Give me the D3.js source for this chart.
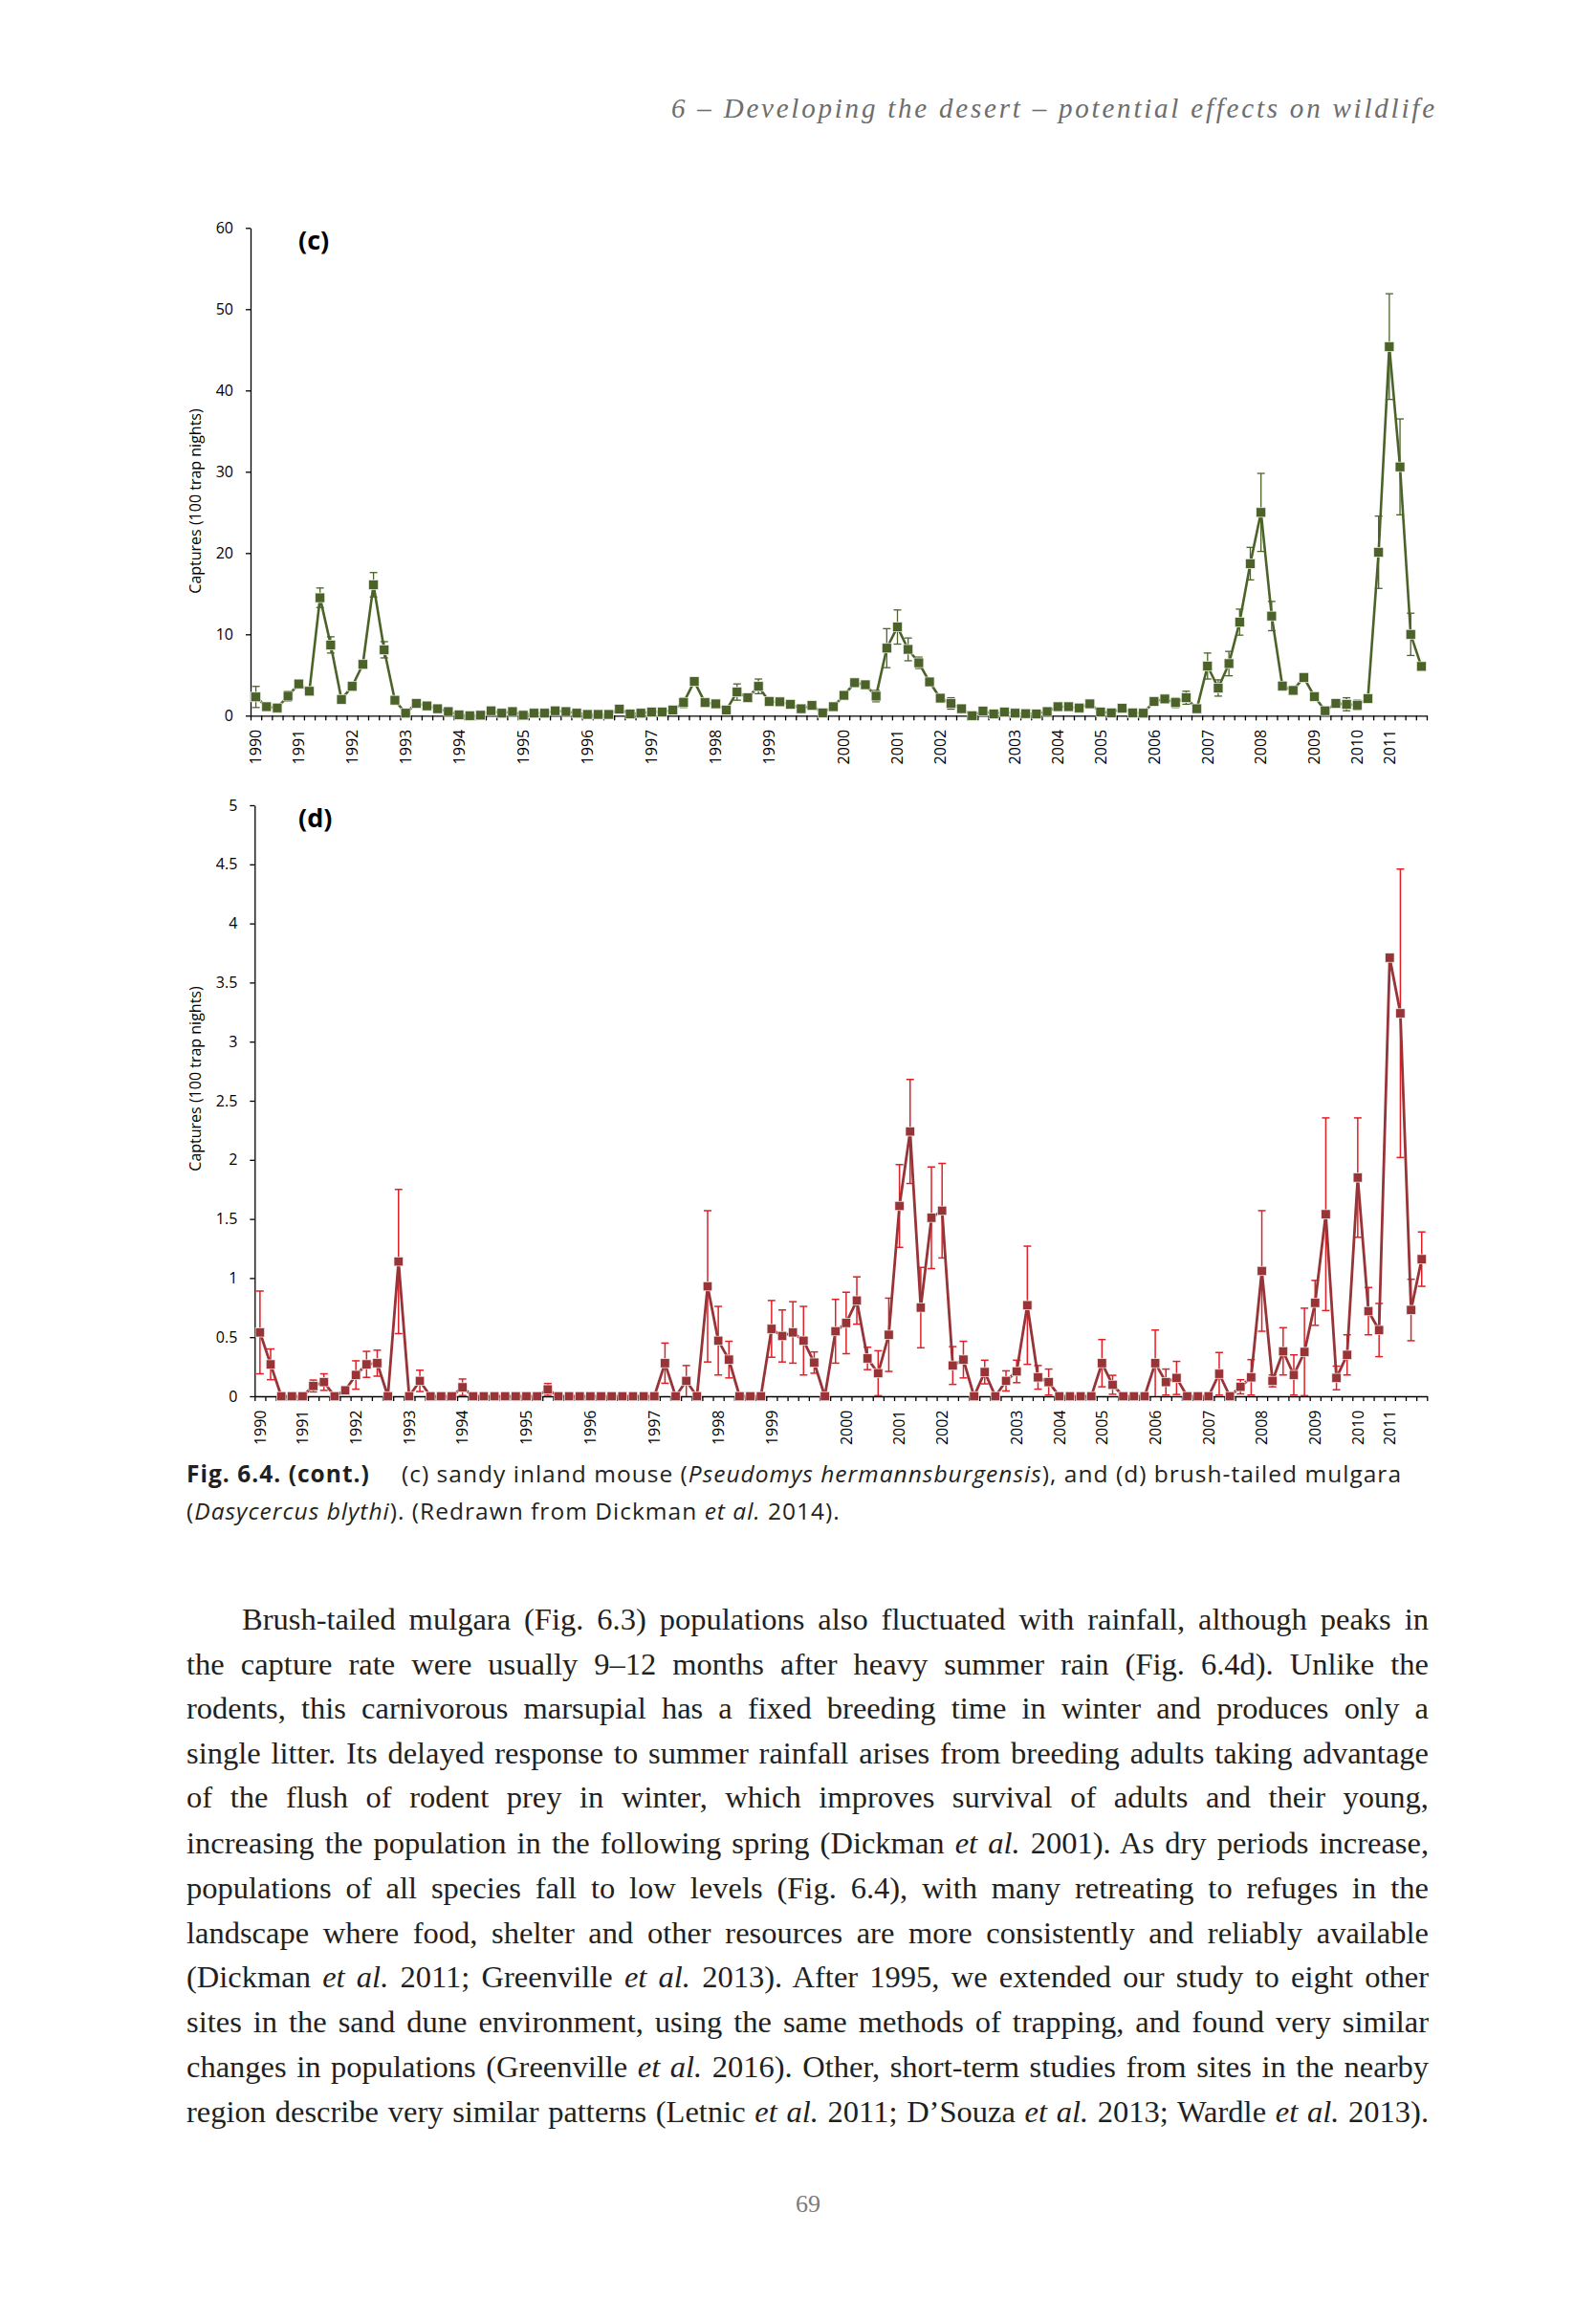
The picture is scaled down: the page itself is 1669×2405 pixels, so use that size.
<!DOCTYPE html>
<html><head><meta charset="utf-8">
<script src="https://cdn.jsdelivr.net/npm/d3@7"></script>
<style>body{margin:0;background:#fff}svg{display:block}</style>
</head><body>
<svg id="page" width="1669" height="2405"></svg>
<script>
// ---------- DATA ----------
const samples = d3.range(110); // sampling occasions, 1990–2011
const yearTicks = [1990,1991,1992,1993,1994,1995,1996,1997,1998,1999,2000,2001,2002,2003,2004,2005,2006,2007,2008,2009,2010,2011];
const yearTickSample = [0,4,9,14,19,25,31,37,43,48,55,60,64,71,75,79,84,89,94,99,103,106];

const mouseValues = [2.3,1.1,0.95,2.4,3.9,3.0,14.5,8.7,2.0,3.6,6.3,16.1,8.1,1.9,0.3,1.5,1.2,0.85,0.5,0.1,
  0.0,0.05,0.6,0.3,0.5,0.05,0.3,0.3,0.6,0.5,0.3,0.15,0.15,0.15,0.8,0.2,0.3,0.45,0.45,0.7,
  1.6,4.2,1.6,1.45,0.7,2.9,2.2,3.6,1.75,1.7,1.4,0.85,1.25,0.35,1.1,2.5,4.05,3.8,2.4,8.3,
  10.9,8.15,6.5,4.15,2.15,1.5,0.85,0.0,0.55,0.2,0.45,0.3,0.25,0.2,0.5,1.1,1.1,0.95,1.45,0.45,
  0.35,0.9,0.35,0.3,1.75,2.05,1.6,2.2,0.85,6.1,3.4,6.4,11.5,18.7,25.0,12.25,3.65,3.1,4.7,2.35,
  0.6,1.5,1.4,1.3,2.1,20.1,45.4,30.6,10.0,6.05];
const mouseErrors = [1.3,0.2,0.2,0.6,0.5,0.4,1.2,1.0,0.3,0.5,0.4,1.5,1.0,0.3,0.2,0.2,0.2,0.2,0.1,0.1,
  0,0,0.1,0.1,0.1,0,0.1,0.1,0.1,0.1,0.1,0,0,0,0.2,0,0.1,0.1,0.1,0.2,
  0.6,0.4,0.3,0.3,0.2,1.0,0.3,0.9,0.5,0.3,0.4,0.2,0.3,0.1,0.3,0.3,0.5,0.3,0.7,2.4,
  2.1,1.4,0.7,0.5,0.3,0.7,0.2,0,0.2,0.1,0.1,0.1,0.1,0.1,0.1,0.2,0.2,0.2,0.2,0.1,
  0.1,0.2,0.1,0.1,0.3,0.3,0.6,0.8,0.2,1.6,1.0,1.5,1.6,2.0,4.8,1.8,0.5,0.3,0.5,0.3,
  0.2,0.3,0.8,0.6,0.3,4.45,6.5,5.9,2.6,0.4];

const mulgaraValues = [0.54,0.27,0,0,0,0.087,0.12,0,0.05,0.18,0.27,0.28,0,1.14,0,0.13,0,0,0,0.076,
  0,0,0,0,0,0,0,0.058,0,0,0,0,0,0,0,0,0,0,0.28,0,
  0.13,0,0.93,0.47,0.31,0,0,0,0.57,0.51,0.54,0.47,0.285,0,0.55,0.62,0.81,0.32,0.195,0.52,
  1.61,2.24,0.75,1.51,1.57,0.26,0.31,0,0.205,0,0.13,0.21,0.77,0.16,0.12,0,0,0,0,0.28,
  0.097,0,0,0,0.28,0.12,0.155,0,0,0,0.19,0,0.08,0.16,1.06,0.13,0.38,0.18,0.375,0.79,
  1.54,0.155,0.35,1.85,0.72,0.56,3.71,3.24,0.73,1.16];
const mulgaraErrors = [0.35,0.13,0,0,0,0.05,0.07,0,0,0.12,0.11,0.11,0,0.61,0,0.09,0,0,0,0.07,
  0,0,0,0,0,0,0,0.05,0,0,0,0,0,0,0,0,0,0,0.17,0,
  0.13,0,0.64,0.29,0.155,0,0,0,0.24,0.22,0.26,0.29,0.09,0,0.27,0.26,0.2,0.095,0.19,0.31,
  0.35,0.44,0.34,0.43,0.4,0.16,0.155,0,0.1,0,0.085,0.095,0.5,0.1,0.11,0,0,0,0,0.2,
  0.08,0,0,0,0.28,0.11,0.14,0,0,0,0.18,0,0.06,0.15,0.51,0.05,0.2,0.17,0.37,0.19,
  0.815,0.1,0.17,0.505,0.2,0.225,0,1.22,0.26,0.23];

const mouseYTicks = [0,10,20,30,40,50,60];
const mulgaraYTicks = [0,0.5,1,1.5,2,2.5,3,3.5,4,4.5,5];

const headerText = "6 – Developing the desert – potential effects on wildlife";
const captionLead = "Fig. 6.4. (cont.)";
const captionLine1 = "(c) sandy inland mouse (*Pseudomys hermannsburgensis*), and (d) brush-tailed mulgara";
const captionLine2 = "(*Dasycercus blythi*). (Redrawn from Dickman *et al.* 2014).";
const bodyLines = [
  "Brush-tailed mulgara (Fig. 6.3) populations also fluctuated with rainfall, although peaks in",
  "the capture rate were usually 9–12 months after heavy summer rain (Fig. 6.4d). Unlike the",
  "rodents, this carnivorous marsupial has a fixed breeding time in winter and produces only a",
  "single litter. Its delayed response to summer rainfall arises from breeding adults taking advantage",
  "of the flush of rodent prey in winter, which improves survival of adults and their young,",
  "increasing the population in the following spring (Dickman *et al.* 2001). As dry periods increase,",
  "populations of all species fall to low levels (Fig. 6.4), with many retreating to refuges in the",
  "landscape where food, shelter and other resources are more consistently and reliably available",
  "(Dickman *et al.* 2011; Greenville *et al.* 2013). After 1995, we extended our study to eight other",
  "sites in the sand dune environment, using the same methods of trapping, and found very similar",
  "changes in populations (Greenville *et al.* 2016). Other, short-term studies from sites in the nearby",
  "region describe very similar patterns (Letnic *et al.* 2011; D’Souza *et al.* 2013; Wardle *et al.* 2013)."
];
const pageNumber = "69";

// ---------- DRAW ----------
const svg = d3.select('#page');
svg.append('rect').attr('width',1669).attr('height',2405).attr('fill','#fff');

function drawPanel(cfg){
  const g = svg.append('g');
  const xb = d3.scaleBand().domain(samples).range([cfg.x0, cfg.x1]);
  const xl = d3.scaleLinear().domain([0, samples.length]).range([cfg.x0, cfg.x1]);
  const y = d3.scaleLinear().domain([0, cfg.yMax]).range([cfg.yBottom, cfg.yTop]);
  const cx = i => xb(i) + xb.bandwidth()/2;

  const xa = g.append('g').attr('transform',`translate(0,${cfg.yBottom})`)
    .call(d3.axisBottom(xl).tickValues(d3.range(samples.length+1)).tickFormat('').tickSize(5).tickSizeOuter(0));
  xa.selectAll('line,path').attr('stroke','#000').attr('stroke-width',1.3);
  const xlab = g.append('g').attr('transform',`translate(0,${cfg.yBottom})`)
    .call(d3.axisBottom(xb).tickValues(yearTickSample).tickFormat((d,i)=>yearTicks[i]).tickSize(0).tickPadding(0));
  xlab.select('.domain').remove();
  xlab.selectAll('text')
    .attr('font-family','Open Sans').attr('font-size',16).attr('fill','#000')
    .attr('transform','rotate(-90)').attr('text-anchor','end')
    .attr('x',-14.5).attr('y',0).attr('dy','0.36em');

  const ya = g.append('g').attr('transform',`translate(${cfg.x0},0)`)
    .call(d3.axisLeft(y).tickValues(cfg.yTicks).tickFormat(d=>String(d)).tickSize(5).tickSizeOuter(0).tickPadding(13));
  ya.selectAll('line,path').attr('stroke','#000').attr('stroke-width',1.3);
  ya.selectAll('text').attr('font-family','Open Sans').attr('font-size',16).attr('fill','#000');

  g.append('text').attr('transform',`translate(204,${cfg.titleY}) rotate(-90)`)
    .attr('text-anchor','middle').attr('dy','0.35em')
    .attr('font-family','Open Sans').attr('font-size',16).attr('fill','#000')
    .text('Captures (100 trap nights)');

  g.append('text').attr('x',312).attr('y',cfg.labelY)
    .attr('font-family','Open Sans').attr('font-weight','bold').attr('font-size',27).attr('fill','#000')
    .text(cfg.label);

  const eb = g.append('g').attr('stroke',cfg.errColor).attr('stroke-width',cfg.errWidth).attr('fill','none');
  samples.forEach(i=>{
    const v = cfg.values[i], e = cfg.errors[i];
    if(!e) return;
    const lo = Math.max(0, v - e), hi = v + e;
    const X = cx(i);
    eb.append('line').attr('x1',X).attr('x2',X).attr('y1',y(lo)).attr('y2',y(hi));
    eb.append('line').attr('x1',X-4).attr('x2',X+4).attr('y1',y(hi)).attr('y2',y(hi));
    if(lo>0) eb.append('line').attr('x1',X-4).attr('x2',X+4).attr('y1',y(lo)).attr('y2',y(lo));
  });

  g.append('path').datum(samples)
    .attr('d', d3.line().x(i=>cx(i)).y(i=>y(cfg.values[i])))
    .attr('fill','none').attr('stroke',cfg.color).attr('stroke-width',cfg.lineWidth).attr('stroke-linejoin','round');

  const s = cfg.marker;
  g.append('g').selectAll('rect').data(samples).join('rect')
    .attr('x',i=>cx(i)-s/2).attr('y',i=>y(cfg.values[i])-s/2)
    .attr('width',s).attr('height',s)
    .attr('fill',cfg.color).attr('stroke','#f2f2ee').attr('stroke-width',0.7);
}

drawPanel({x0:262, x1:1492, yTop:238.3, yBottom:748.3, yMax:60, yTicks:mouseYTicks,
  values:mouseValues, errors:mouseErrors, color:'#4b6329', errColor:'#4b6329', errWidth:1.3,
  lineWidth:2.6, marker:10, label:'(c)', labelY:261, titleY:524});

drawPanel({x0:266.3, x1:1492.3, yTop:842, yBottom:1460, yMax:5, yTicks:mulgaraYTicks,
  values:mulgaraValues, errors:mulgaraErrors, color:'#983337', errColor:'#e01f26', errWidth:1.5,
  lineWidth:2.8, marker:9.5, label:'(d)', labelY:865, titleY:1128});

// ---------- TEXT ----------
function parseSegs(str){
  return str.split('*').map((t,k)=>({t, i: k%2===1})).filter(s=>s.t.length);
}
function richLine(str, x, y, opts){
  const t = svg.append('text').attr('x',x).attr('y',y)
    .attr('font-family',opts.font).attr('font-size',opts.size).attr('fill',opts.fill||'#231f20')
    .style('white-space','pre');
  if(opts.bold) t.attr('font-weight','bold');
  if(opts.letter) t.attr('letter-spacing',opts.letter);
  parseSegs(str).forEach(s=>{
    const sp = t.append('tspan').text(s.t);
    if(s.i) sp.attr('font-style','italic');
  });
  if(opts.width){
    const w = t.node().getComputedTextLength();
    const plain = str.replace(/\*/g,'');
    const n = (plain.match(/ /g)||[]).length;
    if(n) t.attr('word-spacing', ((opts.width - w)/n).toFixed(3));
  }
  return t;
}

// header
svg.append('text').attr('x',1500).attr('y',123).attr('text-anchor','end')
  .attr('font-family','Liberation Serif').attr('font-style','italic').attr('font-size',29)
  .attr('fill','#6d6d6d').attr('textLength',798).attr('lengthAdjust','spacing')
  .text(headerText);

// caption (letter-spacing chosen so line 1 spans the reference width)
const capSize = 24.5;
const probe = richLine(captionLine1, 0, -100, {font:'Open Sans', size:capSize});
const natural = probe.node().getComputedTextLength();
probe.remove();
const capLetter = (1046 - natural) / captionLine1.replace(/\*/g,'').length;
richLine(captionLead, 195, 1550, {font:'Open Sans', size:capSize, bold:true, letter:capLetter});
richLine(captionLine1, 420, 1550, {font:'Open Sans', size:capSize, letter:capLetter});
richLine(captionLine2, 195, 1589, {font:'Open Sans', size:capSize, letter:capLetter});

// body paragraph
const bodyBase = [1704,1751,1797,1844,1890,1938,1985,2032,2078,2125,2172,2219];
bodyLines.forEach((ln,k)=>{
  const x = k===0 ? 253 : 195;
  richLine(ln, x, bodyBase[k], {font:'Liberation Serif', size:32.5, width:1494 - x});
});

// page number
svg.append('text').attr('x',845).attr('y',2313).attr('text-anchor','middle')
  .attr('font-family','Liberation Serif').attr('font-size',26).attr('fill','#7a7a7a')
  .text(pageNumber);
</script>
</body></html>
